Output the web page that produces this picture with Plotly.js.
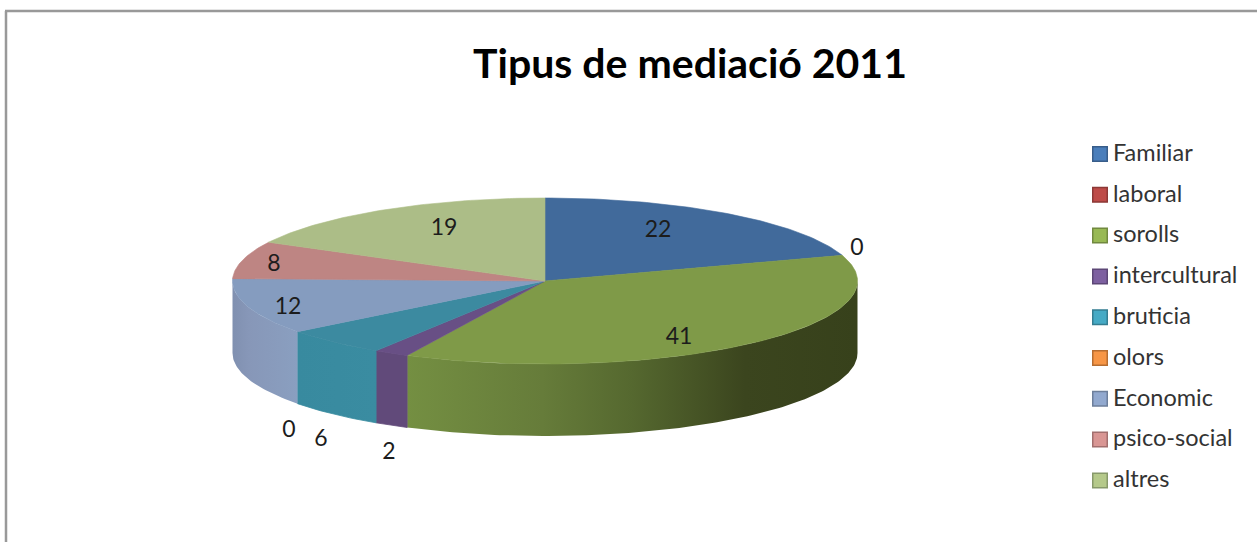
<!DOCTYPE html>
<html>
<head>
<meta charset="utf-8">
<script src="https://cdn.plot.ly/plotly-3.0.1.min.js"></script>
<style>html,body{margin:0;padding:0;background:#fff;overflow:hidden}</style>
</head>
<body>
<div id="chart" style="width:1257px;height:542px"></div>
<script>
// ---- data ----
const categories = ["Familiar","laboral","sorolls","intercultural","bruticia","olors","Economic","psico-social","altres"];
const values = [22,0,41,2,6,0,12,8,19];

// ---- styles ----
const topColors = ["#416a9b","#a5403d","#7f9a48","#684f85","#3c8aa0","#e08536","#859cbf","#be8583","#acbd87"];
const swatchColors = ["#4a7ebb","#be4b48","#98b954","#7d60a0","#46aac5","#f79646","#92a9cf","#d99694","#b5c98a"];
const swatchBorders = ["#385d8a","#8c3836","#71893f","#5c4776","#357d91","#b66d31","#6d7f9b","#a26f6e","#87996a"];
const sideScales = {
  "sorolls": [[0,"#748f42"],[0.3,"#667c3a"],[0.5,"#55682f"],[0.75,"#3b451e"],[1,"#37411b"]],
  "intercultural": [[0,"#614a7a"],[1,"#614a7a"]],
  "bruticia": [[0,"#388a9f"],[1,"#3a8ca1"]],
  "Economic": [[0,"#8090b0"],[0.25,"#8797b8"],[1,"#8a9fc0"]]
};
const sideEdges = {"intercultural":"#614a7a","bruticia":"#398ba0"};

// ---- layout of the pie in pixel-like axis units ----
const cx = 545, cy = 281, rx = 312.5, ry = 83, depth = 72;
const labelX = [658,857,679,389,321,289,288,274,444];
const labelY = [231,249,338,453,440,431,308,265,229];
const legendX = 1100, legendTextX = 1113, legendTop = 154, legendStep = 40.8;

const total = values.reduce((a,b)=>a+b,0);
const px = a => cx + rx*Math.sin(a*Math.PI/180);
const py = a => cy - ry*Math.cos(a*Math.PI/180);
function arc(a0,a1){const o=[];const n=Math.max(2,Math.ceil(Math.abs(a1-a0)));for(let i=0;i<=n;i++)o.push(a0+(a1-a0)*i/n);return o;}

const sideTraces=[], topTraces=[];
let acc=0;
categories.forEach((name,i)=>{
  const a0=acc/total*360, a1=(acc+values[i])/total*360; acc+=values[i];
  if(values[i]===0) return;
  const s0=Math.max(a0,90), s1=Math.min(a1,270);
  if(s1>s0){
    const as=arc(s0,s1);
    const xs=as.map(px).concat(as.slice().reverse().map(px));
    const ys=as.map(py).concat(as.slice().reverse().map(a=>py(a)+depth));
    xs.push(xs[0]); ys.push(ys[0]);
    const edge=sideEdges[name];
    sideTraces.push({type:"scatter",mode:"lines",x:xs,y:ys,fill:"toself",
      line:edge?{width:0.8,color:edge}:{width:0},
      fillgradient:{type:"horizontal",colorscale:sideScales[name]},hoverinfo:"skip",showlegend:false});
  }
  const at=arc(a0,a1);
  topTraces.push({type:"scatter",mode:"lines",
    x:[cx].concat(at.map(px),[cx]),y:[cy].concat(at.map(py),[cy]),
    fill:"toself",fillcolor:topColors[i],line:{width:0.6,color:topColors[i]},
    name:name,hoverinfo:"skip",showlegend:false});
});

const labelTrace={type:"scatter",mode:"text",x:labelX,y:labelY,text:values.map(String),
  textposition:"middle center",textfont:{family:"Lato, Carlito, sans-serif",size:23,color:"#1c1c1c"},
  hoverinfo:"skip",showlegend:false};

const legendY = categories.map((c,i)=>legendTop+i*legendStep);
const legendMarks={type:"scatter",mode:"markers",x:categories.map(()=>legendX),y:legendY,
  marker:{symbol:"square",size:14.5,color:swatchColors,line:{width:1.5,color:swatchBorders}},
  hoverinfo:"skip",showlegend:false};
const legendTexts={type:"scatter",mode:"text",x:categories.map(()=>legendTextX),y:legendY.map(v=>v+1),
  text:categories,textposition:"middle right",
  textfont:{family:"Lato, Carlito, sans-serif",size:23.5,color:"#333333"},
  hoverinfo:"skip",showlegend:false};

const layout={
  width:1257,height:542,margin:{l:0,r:0,t:0,b:0,pad:0},
  paper_bgcolor:"#ffffff",plot_bgcolor:"#ffffff",showlegend:false,hovermode:false,
  title:{text:"<b>Tipus de mediació 2011</b>",font:{family:"Lato, Carlito, sans-serif",size:41,color:"#000000"},
    x:690/1257,xanchor:"center",xref:"paper",y:1-64/542,yanchor:"middle",yref:"paper"},
  xaxis:{range:[0,1257],visible:false,fixedrange:true},
  yaxis:{range:[542,0],visible:false,fixedrange:true},
  shapes:[
    {type:"line",xref:"x",yref:"y",x0:6,x1:6,y0:11,y1:542,line:{color:"#999999",width:2.5}},
    {type:"line",xref:"x",yref:"y",x0:5,x1:1257,y0:11,y1:11,line:{color:"#999999",width:2.5}}
  ]
};
Plotly.newPlot("chart",sideTraces.concat(topTraces,[labelTrace,legendMarks,legendTexts]),layout,{displayModeBar:false,staticPlot:true});
</script>
</body>
</html>
